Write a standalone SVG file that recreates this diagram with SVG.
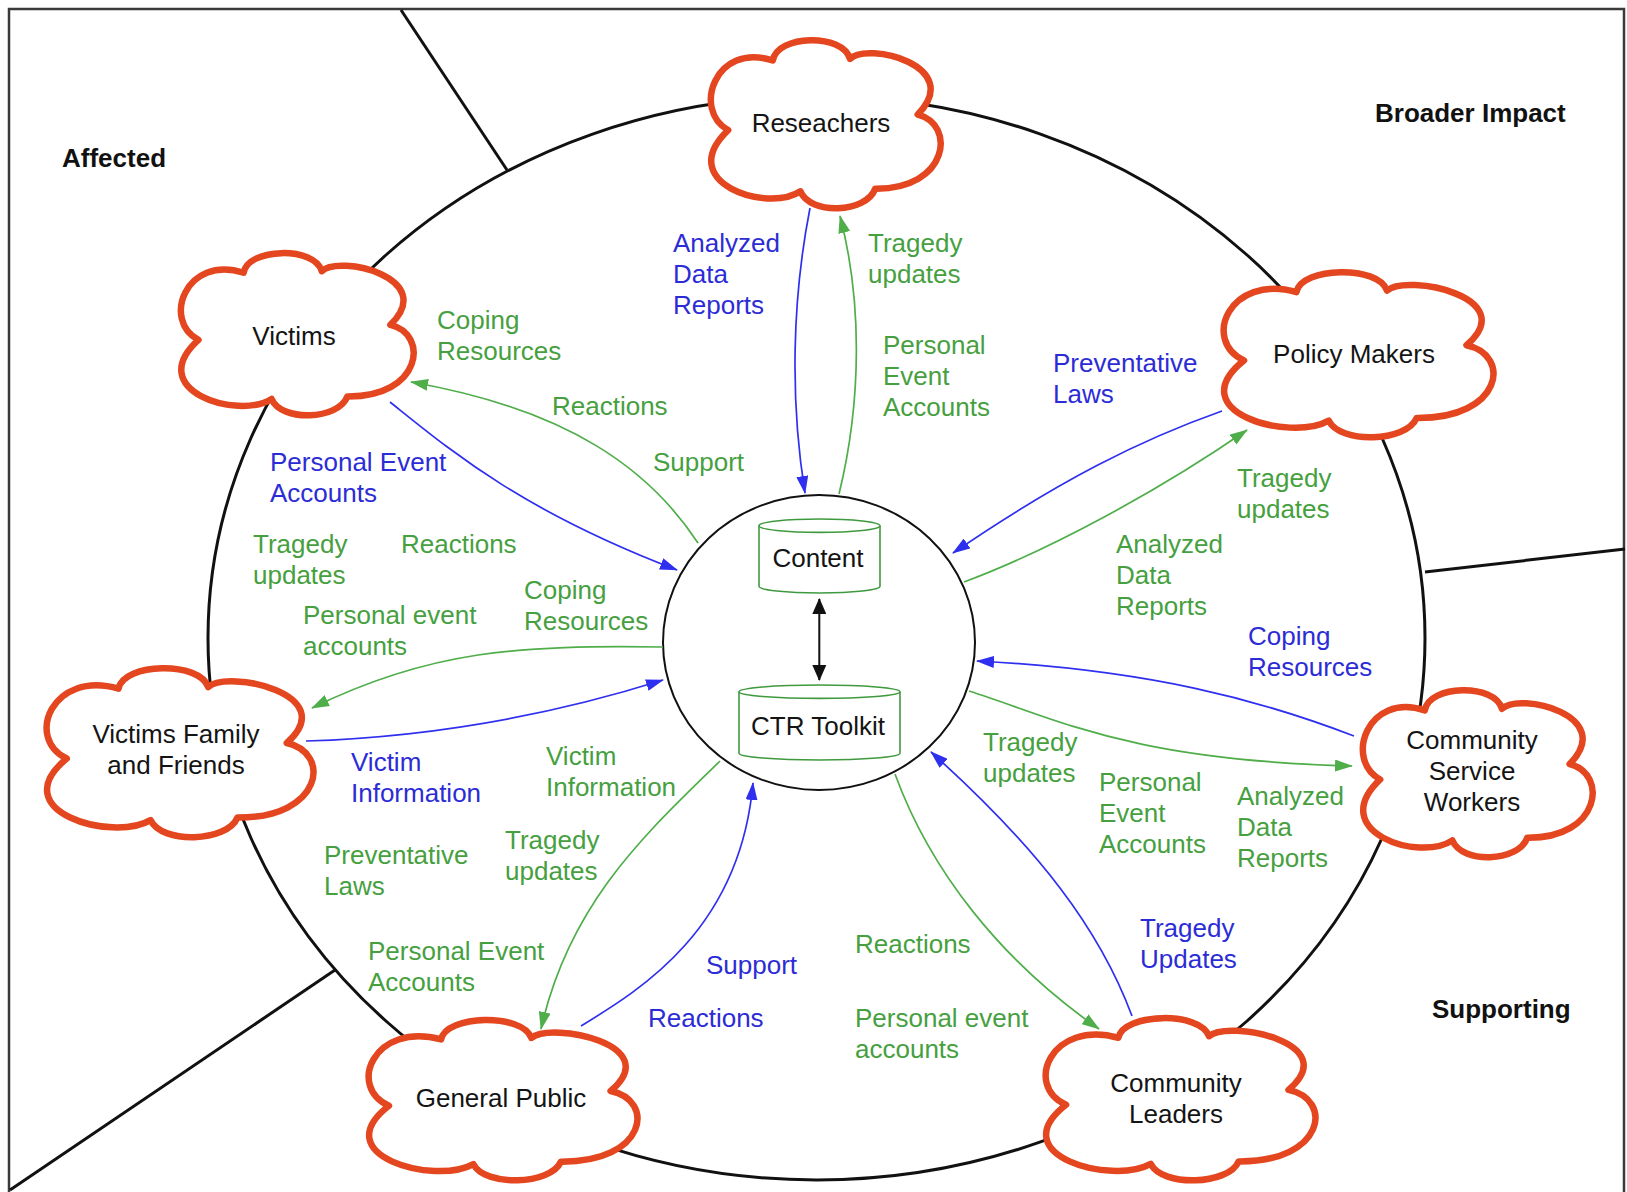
<svg xmlns="http://www.w3.org/2000/svg" xmlns:xlink="http://www.w3.org/1999/xlink" width="1627" height="1192" viewBox="0 0 1627 1192">
<style>
text{font-family:"Liberation Sans",Arial,Helvetica,sans-serif;font-size:26px}
.n{fill:#141414;text-anchor:middle}
.r{fill:#111;font-weight:bold}
.lb{fill:#2c2cd6}
.lg{fill:#46a040}
.cloud{fill:#fff;stroke:#e4461f;stroke-width:6.5;vector-effect:non-scaling-stroke;stroke-linejoin:round}
.cb{fill:none;stroke:#2f2ff0;stroke-width:1.7}
.cg{fill:none;stroke:#4fae4a;stroke-width:1.7}
.cyl{fill:#fff;stroke:#3f9a3f;stroke-width:1.6}
.div{fill:none;stroke:#111;stroke-width:3}
</style>
<defs>
<path id="cloud" class="cloud" d="M 9.4,53.5 C -6,42 4,2 28.3,13.1 C 30,-2 58,-3 61,12.2 C 68,2 110,16 89.7,44.5 C 106,50 103,88 71.7,87.6 C 68,102 44,103 40,89.1 C 26,102 -14,84 9.4,53.5 Z"/>
<marker id="mb" viewBox="0 0 18 12" refX="17" refY="6" markerWidth="18" markerHeight="12" orient="auto" markerUnits="userSpaceOnUse"><path d="M0,0 L18,6 L0,12 z" fill="#2f2ff0"/></marker>
<marker id="mg" viewBox="0 0 18 12" refX="17" refY="6" markerWidth="18" markerHeight="12" orient="auto" markerUnits="userSpaceOnUse"><path d="M0,0 L18,6 L0,12 z" fill="#4fae4a"/></marker>
<marker id="mk" viewBox="0 0 16 14" refX="15" refY="7" markerWidth="16" markerHeight="14" orient="auto" markerUnits="userSpaceOnUse"><path d="M0,0 L16,7 L0,14 z" fill="#111"/></marker>
</defs>
<rect x="0" y="0" width="1627" height="1192" fill="#fff"/>
<g id="frame">
<rect x="9" y="9" width="1615" height="1200" fill="none" stroke="#3a3a3a" stroke-width="2.5"/>
<line class="div" x1="401" y1="10" x2="507" y2="170"/>
<line class="div" x1="1425" y1="572" x2="1625" y2="549"/>
<line class="div" x1="335" y1="970" x2="10" y2="1190"/>
<ellipse class="div" cx="816.5" cy="638" rx="608.5" ry="542"/>
</g>
<g id="regions">
<text class="r" x="62" y="167">Affected</text>
<text class="r" x="1375" y="122">Broader Impact</text>
<text class="r" x="1432" y="1018">Supporting</text>
</g>
<g id="hub">
<ellipse cx="819" cy="642.5" rx="156" ry="147.5" fill="#fff" stroke="#111" stroke-width="2"/>
</g>
<g id="content">
<path class="cyl" d="M759,525.7 L759,586.3 A60.5,6.7 0 0 0 880,586.3 L880,525.7"/>
<ellipse class="cyl" cx="819.5" cy="525.7" rx="60.5" ry="6.7"/>
<text class="n" x="818" y="567">Content</text>
</g>
<g id="ctr-toolkit">
<path class="cyl" d="M739,691.7 L739,753.3 A80.5,6.7 0 0 0 900,753.3 L900,691.7"/>
<ellipse class="cyl" cx="819.5" cy="691.7" rx="80.5" ry="6.7"/>
<text class="n" x="818" y="735">CTR Toolkit</text>
</g>
<g id="connectors">
<path d="M819.3,640 L819.3,599" fill="none" stroke="#111" stroke-width="2" marker-end="url(#mk)"/>
<path d="M819.3,640 L819.3,680" fill="none" stroke="#111" stroke-width="2" marker-end="url(#mk)"/>
<path class="cb" d="M810,208 C792,300 790,400 805,493" marker-end="url(#mb)"/>
<path class="cg" d="M839,494 C862,400 862,300 840,216" marker-end="url(#mg)"/>
<path class="cg" d="M698,543 C650,470 570,410 411,382" marker-end="url(#mg)"/>
<path class="cb" d="M390,402 C450,450 520,510 677,570" marker-end="url(#mb)"/>
<path class="cb" d="M1222,411 C1140,440 1060,480 953,553" marker-end="url(#mb)"/>
<path class="cg" d="M964,582 C1050,550 1160,490 1247,430" marker-end="url(#mg)"/>
<path class="cg" d="M663,647 C520,645 430,650 312,708" marker-end="url(#mg)"/>
<path class="cb" d="M306,741 C400,738 520,725 663,680" marker-end="url(#mb)"/>
<path class="cg" d="M720,761 C650,830 570,900 541,1029" marker-end="url(#mg)"/>
<path class="cb" d="M581,1026 C640,990 740,930 753,783" marker-end="url(#mb)"/>
<path class="cg" d="M895,774 C930,870 1000,960 1099,1029" marker-end="url(#mg)"/>
<path class="cb" d="M1132,1016 C1100,930 1040,850 931,752" marker-end="url(#mb)"/>
<path class="cb" d="M1354,736 C1260,700 1150,670 977,661" marker-end="url(#mb)"/>
<path class="cg" d="M969,691 C1060,720 1130,760 1352,766" marker-end="url(#mg)"/>
</g>
<g id="researchers"><use xlink:href="#cloud" transform="translate(706,38) scale(2.36,1.72)"/><text class="n" x="821" y="132">Reseachers</text></g>
<g id="victims"><use xlink:href="#cloud" transform="translate(176,251) scale(2.39,1.66)"/><text class="n" x="294" y="345">Victims</text></g>
<g id="policy-makers"><use xlink:href="#cloud" transform="translate(1218,270) scale(2.77,1.69)"/><text class="n" x="1354" y="363">Policy Makers</text></g>
<g id="victims-family"><use xlink:href="#cloud" transform="translate(41,666) scale(2.74,1.73)"/><text class="n" x="176" y="743">Victims Family<tspan x="176" dy="31">and Friends</tspan></text></g>
<g id="community-service-workers"><use xlink:href="#cloud" transform="translate(1358,688) scale(2.36,1.71)"/><text class="n" x="1472" y="749">Community<tspan x="1472" dy="31">Service</tspan><tspan x="1472" dy="31">Workers</tspan></text></g>
<g id="general-public"><use xlink:href="#cloud" transform="translate(363,1018) scale(2.76,1.64)"/><text class="n" x="501" y="1107">General Public</text></g>
<g id="community-leaders"><use xlink:href="#cloud" transform="translate(1040,1016) scale(2.77,1.66)"/><text class="n" x="1176" y="1092">Community<tspan x="1176" dy="31">Leaders</tspan></text></g>
<g id="labels">
<text class="lb" x="673" y="252">Analyzed<tspan x="673" dy="31">Data</tspan><tspan x="673" dy="31">Reports</tspan></text>
<text class="lg" x="868" y="252">Tragedy<tspan x="868" dy="31">updates</tspan></text>
<text class="lg" x="883" y="354">Personal<tspan x="883" dy="31">Event</tspan><tspan x="883" dy="31">Accounts</tspan></text>
<text class="lb" x="1053" y="372">Preventative<tspan x="1053" dy="31">Laws</tspan></text>
<text class="lg" x="437" y="329">Coping<tspan x="437" dy="31">Resources</tspan></text>
<text class="lg" x="552" y="415">Reactions</text>
<text class="lg" x="653" y="471">Support</text>
<text class="lb" x="270" y="471">Personal Event<tspan x="270" dy="31">Accounts</tspan></text>
<text class="lg" x="253" y="553">Tragedy<tspan x="253" dy="31">updates</tspan></text>
<text class="lg" x="401" y="553">Reactions</text>
<text class="lg" x="303" y="624">Personal event<tspan x="303" dy="31">accounts</tspan></text>
<text class="lg" x="524" y="599">Coping<tspan x="524" dy="31">Resources</tspan></text>
<text class="lb" x="351" y="771">Victim<tspan x="351" dy="31">Information</tspan></text>
<text class="lg" x="546" y="765">Victim<tspan x="546" dy="31">Information</tspan></text>
<text class="lg" x="324" y="864">Preventative<tspan x="324" dy="31">Laws</tspan></text>
<text class="lg" x="505" y="849">Tragedy<tspan x="505" dy="31">updates</tspan></text>
<text class="lg" x="368" y="960">Personal Event<tspan x="368" dy="31">Accounts</tspan></text>
<text class="lb" x="706" y="974">Support</text>
<text class="lb" x="648" y="1027">Reactions</text>
<text class="lg" x="855" y="953">Reactions</text>
<text class="lg" x="855" y="1027">Personal event<tspan x="855" dy="31">accounts</tspan></text>
<text class="lb" x="1140" y="937">Tragedy<tspan x="1140" dy="31">Updates</tspan></text>
<text class="lg" x="983" y="751">Tragedy<tspan x="983" dy="31">updates</tspan></text>
<text class="lg" x="1099" y="791">Personal<tspan x="1099" dy="31">Event</tspan><tspan x="1099" dy="31">Accounts</tspan></text>
<text class="lg" x="1237" y="805">Analyzed<tspan x="1237" dy="31">Data</tspan><tspan x="1237" dy="31">Reports</tspan></text>
<text class="lb" x="1248" y="645">Coping<tspan x="1248" dy="31">Resources</tspan></text>
<text class="lg" x="1237" y="487">Tragedy<tspan x="1237" dy="31">updates</tspan></text>
<text class="lg" x="1116" y="553">Analyzed<tspan x="1116" dy="31">Data</tspan><tspan x="1116" dy="31">Reports</tspan></text>
</g>
</svg>
